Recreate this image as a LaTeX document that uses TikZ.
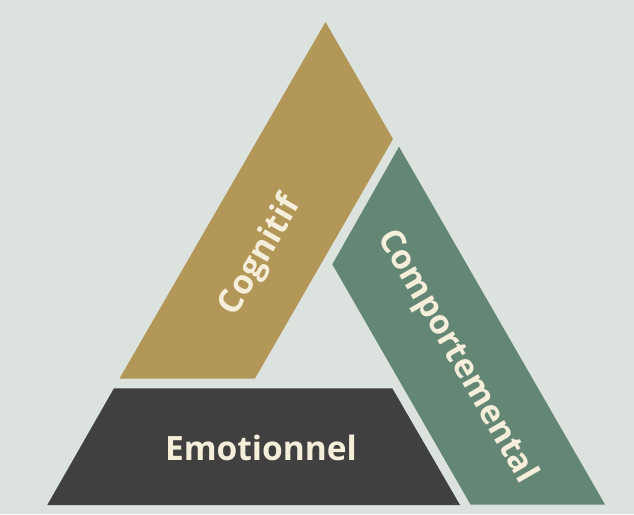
\documentclass[tikz,border=0pt]{standalone}
\usepackage{fontspec}
\setmainfont{Open Sans}[BoldFont={Open Sans Bold}]
\definecolor{bg}{HTML}{DCE3DF}
\definecolor{gold}{HTML}{B39758}
\definecolor{sage}{HTML}{648674}
\definecolor{charcoal}{HTML}{404040}
\definecolor{cream}{HTML}{F5EEDA}
\tikzset{
  band/.style={draw=none},
  lbl/.style={text=cream, font=\bfseries\fontsize{33.5}{40}\selectfont, inner sep=0pt}
}
\begin{document}
\begin{tikzpicture}[x=1pt,y=-1pt]
\fill[bg] (0,0) rectangle (634,514);
\useasboundingbox (0,0) rectangle (634,514);
% Cognitif band
\fill[gold,band] (325.5,22) -- (393,139) -- (255,378.5) -- (119.5,378.5) -- cycle;
% Comportemental band
\fill[sage,band] (399,146.7) -- (605,504.5) -- (470.5,504.5) -- (332.3,264.3) -- cycle;
% Emotionnel band
\fill[charcoal,band] (114,388.3) -- (392.3,388.3) -- (460,505) -- (47.3,505) -- cycle;
\node[lbl, rotate=60] (cog) at (261,256) {Cognitif};
\node[lbl, rotate=-60] (comp) at (457,357) {Comportemental};
\node[lbl] (emo) at (261,448) {Emotionnel};
\end{tikzpicture}
\end{document}
